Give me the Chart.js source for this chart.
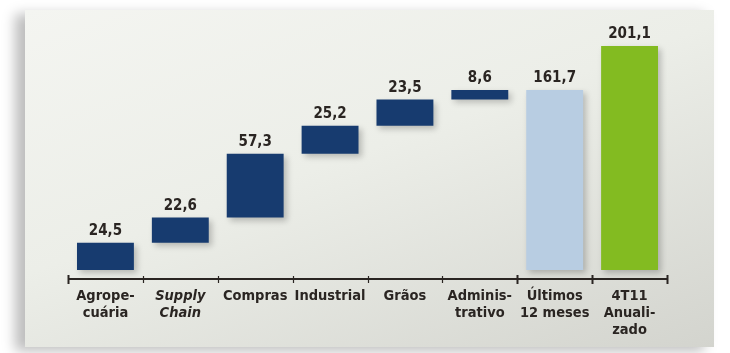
<!DOCTYPE html>
<html>
<head>
<meta charset="utf-8">
<script src="https://cdn.jsdelivr.net/npm/chart.js@4.4.1/dist/chart.umd.min.js"></script>
<style>
    html, body { margin: 0; padding: 0; background: #ffffff; }
    #wrap { position: relative; width: 730px; height: 353px; overflow: hidden; }
    #panel {
        position: absolute; left: 25px; top: 10px; width: 689px; height: 337px;
        background: linear-gradient(160deg, #f4f5f1 0%, #eceee8 45%, #d3d4ce 100%);
        box-shadow: -10px 4px 12px rgba(0, 0, 0, 0.26);
    }
    canvas { position: absolute; left: 0; top: 0; }
</style>
</head>
<body>
<div id="wrap">
    <div id="panel"></div>
    <canvas id="chart" width="730" height="353"></canvas>
</div>
<script>
const categories = [
    ['Agrope-', 'cuária'],
    ['Supply', 'Chain'],
    'Compras',
    'Industrial',
    'Grãos',
    ['Adminis-', 'trativo'],
    ['Últimos', '12 meses'],
    ['4T11', 'Anuali-', 'zado']
];
const steps = [24.5, 22.6, 57.3, 25.2, 23.5, 8.6];
const last12 = 161.7;
const annualized = 201.1;

const darkBlue = '#173b6f';
const lightBlue = '#b8cde2';
const green = '#83bb21';
const textColor = '#2a2522';
const fontFamily = "'DejaVu Sans Condensed', 'Liberation Sans', Arial, sans-serif";

// floating bars for the waterfall
let running = 0;
const barData = steps.map(v => {
    const start = running;
    running += v;
    return [start, running];
});
barData.push([0, last12]);
barData.push([0, annualized]);
const values = steps.concat([last12, annualized]);
const colors = steps.map(() => darkBlue).concat([lightBlue, green]);

const barShadow = {
    id: 'barShadow',
    beforeDatasetsDraw(chart) {
        const c = chart.ctx;
        c.save();
        c.shadowColor = 'rgba(0, 0, 0, 0.22)';
        c.shadowBlur = 6;
        c.shadowOffsetX = 3;
        c.shadowOffsetY = 3;
    },
    afterDatasetsDraw(chart) {
        chart.ctx.restore();
    }
};

const valueLabels = {
    id: 'valueLabels',
    afterDatasetsDraw(chart) {
        const c = chart.ctx;
        const meta = chart.getDatasetMeta(0);
        c.save();
        c.fillStyle = textColor;
        c.font = 'bold 15px ' + fontFamily;
        c.textAlign = 'center';
        c.textBaseline = 'alphabetic';
        meta.data.forEach((bar, i) => {
            c.fillText(values[i].toFixed(1).replace('.', ','), bar.x, bar.y - 8);
        });
        c.restore();
    }
};

const axisLine = {
    id: 'axisLine',
    afterDraw(chart) {
        const c = chart.ctx;
        const area = chart.chartArea;
        const n = categories.length;
        const w = (area.right - area.left) / n;
        const y = area.bottom;
        c.save();
        c.strokeStyle = textColor;
        c.lineWidth = 2;
        c.beginPath();
        c.moveTo(area.left, y);
        c.lineTo(area.right, y);
        c.stroke();
        for (let i = 0; i <= n; i++) {
            const x = Math.round(area.left + i * w) + 0.5;
            const big = (i === 0 || i === n || i === 6 || i === 7);
            c.lineWidth = big ? 2 : 1.2;
            c.beginPath();
            c.moveTo(x, y - (big ? 4 : 3));
            c.lineTo(x, y + (big ? 5 : 4));
            c.stroke();
        }
        c.restore();
    }
};

new Chart(document.getElementById('chart').getContext('2d'), {
    type: 'bar',
    data: {
        labels: categories,
        datasets: [{
            data: barData,
            backgroundColor: colors,
            borderWidth: 0,
            barPercentage: 0.76,
            categoryPercentage: 1
        }]
    },
    options: {
        responsive: false,
        devicePixelRatio: 1,
        animation: false,
        layout: { padding: { left: 68, right: 63, top: 25, bottom: 0 } },
        plugins: { legend: { display: false }, tooltip: { enabled: false } },
        scales: {
            x: {
                grid: { display: false },
                border: { display: false },
                afterFit: scale => { scale.height = 74; },
                ticks: {
                    color: textColor,
                    padding: 1,
                    maxRotation: 0,
                    autoSkip: false,
                    font: ctx => ({
                        family: fontFamily,
                        size: 14.5,
                        weight: 'bold',
                        style: ctx.index === 1 ? 'italic' : 'normal',
                        lineHeight: 1.17
                    })
                }
            },
            y: {
                display: false,
                min: -8,
                max: 220
            }
        }
    },
    plugins: [barShadow, valueLabels, axisLine]
});
</script>
</body>
</html>
